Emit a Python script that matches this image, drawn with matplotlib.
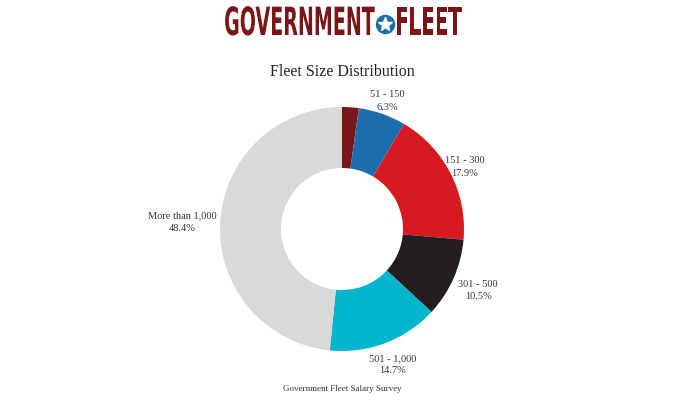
import numpy as np
import matplotlib.pyplot as plt
from matplotlib.patheffects import AbstractPathEffect
from matplotlib.transforms import Affine2D

# Fleet size distribution (Government Fleet Salary Survey)
categories = ["1 - 50", "51 - 150", "151 - 300", "301 - 500", "501 - 1,000", "More than 1,000"]
shares = [2.2, 6.3, 17.9, 10.5, 14.7, 48.4]
show_label = [False, True, True, True, True, True]
colors = ["#7a1518", "#1b6dae", "#d71a21", "#231f20", "#00b5cc", "#d9d9d9"]
label_dist = [1.2, 1.12, 1.13, 1.22, 1.18, 1.31]

serif = ["Liberation Serif", "DejaVu Serif"]
logo_red = "#7a1518"


# squeeze text horizontally around a fixed x (in pixels) to mimic a condensed logo font
class Squash(AbstractPathEffect):
    def __init__(self, x0, sx):
        super().__init__()
        self.x0 = x0
        self.sx = sx

    def draw_path(self, renderer, gc, tpath, affine, rgbFace=None):
        squash = Affine2D().translate(-self.x0, 0).scale(self.sx, 1).translate(self.x0, 0)
        renderer.draw_path(gc, tpath, affine + squash, rgbFace)


fig = plt.figure(figsize=(6.84, 4.10), dpi=100)
ax = fig.add_axes([0, 0, 1, 1])

cx, cy, r = 342, 180, 122
wedges, _ = ax.pie(shares, colors=colors, startangle=90, counterclock=False,
                   center=(cx, cy), radius=r, wedgeprops=dict(width=r * 0.5, linewidth=0))
ax.set_xlim(0, 684)
ax.set_ylim(0, 410)
ax.axis("off")

for w, cat, val, show, d in zip(wedges, categories, shares, show_label, label_dist):
    if not show:
        continue
    ang = np.deg2rad((w.theta1 + w.theta2) / 2)
    x = cx + r * d * np.cos(ang)
    y = cy + r * d * np.sin(ang)
    ax.text(x, y, f"{cat}\n{val}%", ha="center", va="center", fontsize=7.5,
            family=serif, color="#333333", linespacing=1.45)

# header logo
ax.text(375, 385, "GOVERNMENT", ha="right", va="center", fontsize=28, fontweight="bold",
        family="DejaVu Sans", color=logo_red, path_effects=[Squash(375, 0.49)])
ax.text(395, 385, "FLEET", ha="left", va="center", fontsize=28, fontweight="bold",
        family="DejaVu Sans", color=logo_red, path_effects=[Squash(395, 0.51)])
ax.plot(385, 385, "o", ms=13, color="#1b6dae")
ax.plot(385, 385, "*", ms=10, color="white", mec="white")

ax.text(342, 338, "Fleet Size Distribution", ha="center", va="center", fontsize=11.5,
        family=serif, color="#222222")
ax.text(342, 21, "Government Fleet Salary Survey", ha="center", va="center", fontsize=6.5,
        family=serif, color="#333333")

fig.savefig("out.png", dpi=100)
